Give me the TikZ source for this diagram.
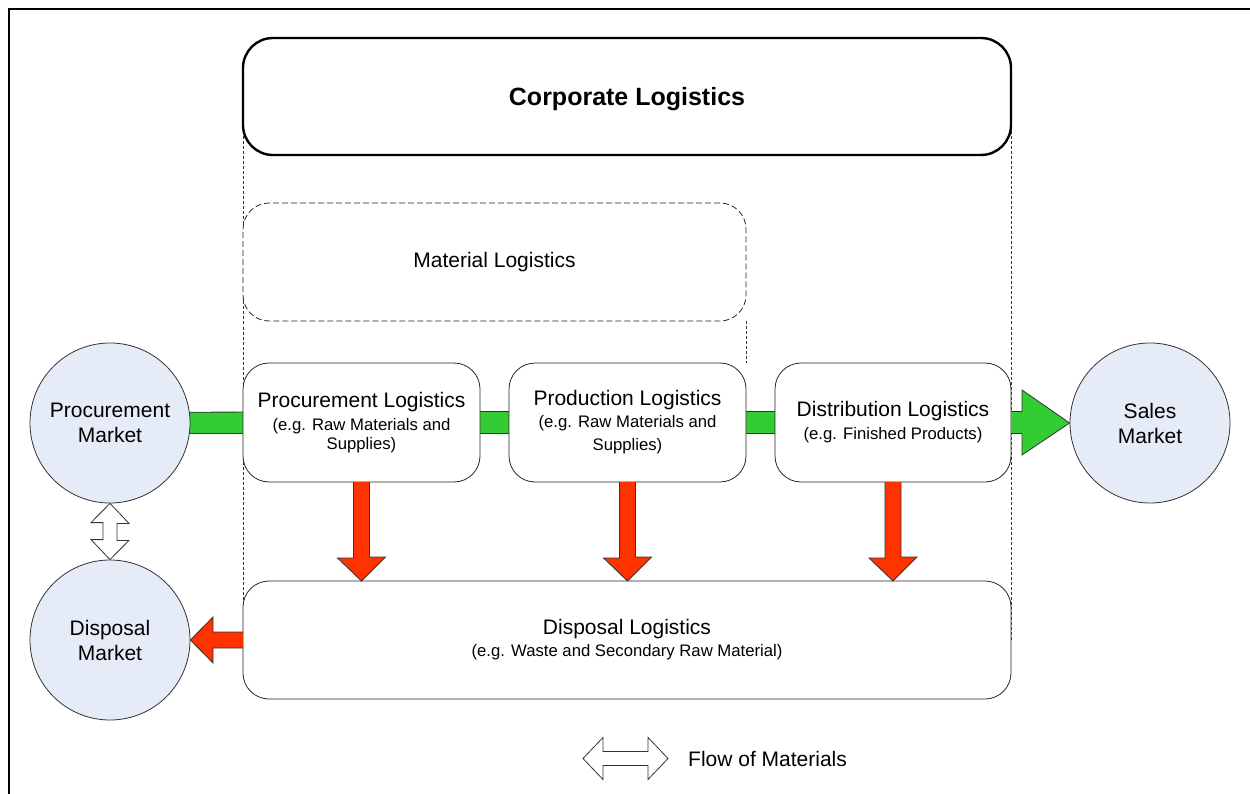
\documentclass[tikz,border=0pt]{standalone}
\usepackage{fontspec}
\setmainfont{Liberation Sans}
\usepackage{xcolor}
\definecolor{ColG}{RGB}{51,204,51}
\definecolor{ColR}{RGB}{255,51,0}
\definecolor{ColB}{RGB}{230,236,247}
\usepackage{tikz}
\usetikzlibrary{calc}
\usetikzlibrary{backgrounds}
\newcommand{\SubText}{\fontsize{16.7}{19}\selectfont}
\tikzstyle{Box}=[draw=black!85,fill=white,line width=0.8pt,rounded corners=26pt,
align=center,inner sep=0pt,outer sep=0pt,minimum width=237pt,minimum height=119pt,
font=\fontsize{21}{23}\selectfont]
\tikzstyle{BoxT}=[Box,line width=2.4pt,draw=black,minimum width=768pt,
minimum height=117pt,rounded corners=30pt,text height=24pt,text depth=5pt,
font=\bfseries\fontsize{25}{28}\selectfont]
\tikzstyle{BoxD}=[Box,draw=black!85,dash pattern=on 6pt off 3pt,
minimum width=503pt,minimum height=118pt]
\tikzstyle{Market}=[circle,draw=black!80,fill=ColB,line width=0.8pt,inner sep=0pt,
minimum size=160pt,align=center,font=\fontsize{21}{25}\selectfont]
\tikzstyle{Guide}=[draw=black!80,line width=0.7pt,dash pattern=on 3pt off 2pt]
\tikzstyle{EdgeG}=[draw=black!80,line width=0.8pt,double=ColG,double distance=20.5pt]
\tikzstyle{ArrowG}=[draw=black!80,fill=ColG,line width=0.8pt,line join=miter]
\tikzstyle{ArrowR}=[draw=black!80,fill=ColR,line width=0.8pt,line join=miter]
\tikzstyle{ArrowW}=[draw=black!80,fill=white,line width=0.8pt,line join=miter]
\tikzstyle{NodeL}=[font=\fontsize{21}{25}\selectfont,inner sep=0pt,anchor=west]

\begin{document}
\begin{tikzpicture}[x=1pt,y=-1pt]
    \useasboundingbox(0,0)rectangle(1250,794);
    \draw[line width=2.5pt](9,794)--(9,9)--(1250,9);
        \node[BoxT](cl)at(627,96.5){Corporate Logistics};
        \node[BoxD](ml)at(494.5,262){Material Logistics};
        \node[Box](pl)at(361.5,422.5){Procurement Logistics\\
            \SubText(e.g. Raw Materials and\\[-4pt]\SubText Supplies)};
        \node[Box](prl)at(627.5,422.5){Production Logistics\\[-1pt]
            \SubText(e.g. Raw Materials and\\[0pt]\SubText Supplies)};
        \node[Box,minimum width=236pt](dl)at(893,422.5){Distribution Logistics\\
            \SubText(e.g. Finished Products)};
        \node[Box,minimum width=768pt,minimum height=118pt](disp)at(627,640){Disposal Logistics\\[-1pt]
            \SubText(e.g. Waste and Secondary Raw Material)};
        \node[Market](pm)at(110,423){Procurement\\Market};
        \node[Market](dm)at(110,640){Disposal\\Market};
        \node[Market](sm)at(1150,423){Sales\\Market};
        \begin{scope}[on background layer]
        \draw[Guide](cl.west)--(disp.west);
        \draw[Guide](cl.east)--(disp.east);
        \draw[Guide](ml.south east)--(prl.north east);
        \draw[EdgeG](pm.center)--(pl.center);
        \draw[EdgeG](pl.center)--(prl.center);
        \draw[EdgeG](prl.center)--(dl.center);
        \end{scope}
        \draw[ArrowG]($(dl.east)+(0,-11)$)--++(11,0)--++(0,-21.5)--(sm.west)
            --($(dl.east)+(11,32.5)$)--++(0,-21.5)--($(dl.east)+(0,11)$);
        \draw[ArrowR]($(pl.south)+(-8,0)$)--++(0,76)--++(-16,0)--(pl.south|-disp.north)
            --++(24,-24)--++(-16,0)--($(pl.south)+(8,0)$);
        \draw[ArrowR]($(prl.south)+(-8,0)$)--++(0,76)--++(-16,0)--(prl.south|-disp.north)
            --++(24,-24)--++(-16,0)--($(prl.south)+(8,0)$);
        \draw[ArrowR]($(dl.south)+(-8,0)$)--++(0,76)--++(-16,0)--(dl.south|-disp.north)
            --++(24,-24)--++(-16,0)--($(dl.south)+(8,0)$);
        \draw[ArrowR]($(disp.west)+(0,-8)$)--++(-30,0)--++(0,-15)--(dm.east)
            --($(disp.west)+(-30,23)$)--++(0,-15)--($(disp.west)+(0,8)$);
        \draw[ArrowW](pm.south)--++(19,20)--++(-12,0)--++(0,17)--++(12,0)--(dm.north)
            --++(-19,-20)--++(12,0)--++(0,-17)--++(-12,0)--cycle;
        \node[NodeL](leg)at(688,758.5){Flow of Materials};
        \coordinate(fl)at(583,758.5);
        \draw[ArrowW](fl)--++(20,-21)--++(0,14)--++(45,0)--++(0,-14)--++(20,21)
            --++(-20,21)--++(0,-14)--++(-45,0)--++(0,14)--cycle;
\end{tikzpicture}
\end{document}
